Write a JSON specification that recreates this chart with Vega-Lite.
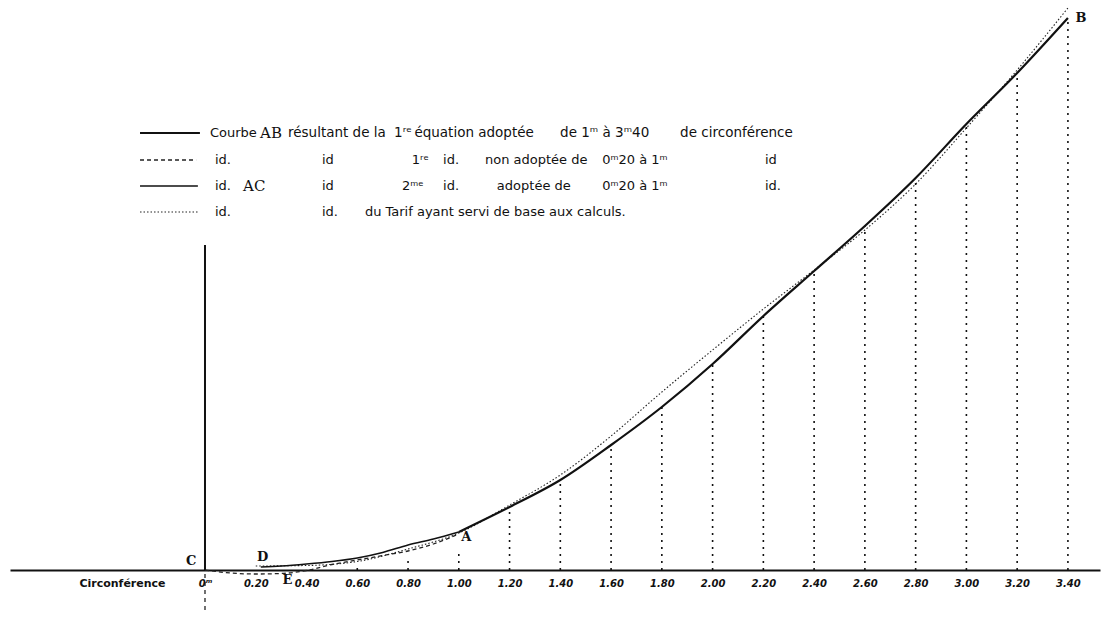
{
  "$schema": "https://vega.github.io/schema/vega-lite/v6.json",
  "autosize": {"type": "none"},
  "padding": {"left": 10, "top": 0, "right": 7, "bottom": 67},
  "width": 1090,
  "height": 570,
  "background": "white",
  "config": {"view": {"stroke": null}},
  "datasets": {
    "curves": [
      {"s": "AB", "g": "AB", "x": 1.0, "y": 0.38},
      {"s": "AB", "g": "AB", "x": 1.2, "y": 0.63},
      {"s": "AB", "g": "AB", "x": 1.4, "y": 0.90},
      {"s": "AB", "g": "AB", "x": 1.6, "y": 1.25},
      {"s": "AB", "g": "AB", "x": 1.8, "y": 1.63},
      {"s": "AB", "g": "AB", "x": 2.0, "y": 2.06},
      {"s": "AB", "g": "AB", "x": 2.2, "y": 2.54},
      {"s": "AB", "g": "AB", "x": 2.4, "y": 2.99},
      {"s": "AB", "g": "AB", "x": 2.6, "y": 3.44},
      {"s": "AB", "g": "AB", "x": 2.8, "y": 3.92},
      {"s": "AB", "g": "AB", "x": 3.0, "y": 4.46},
      {"s": "AB", "g": "AB", "x": 3.2, "y": 4.97},
      {"s": "AB", "g": "AB", "x": 3.4, "y": 5.52},
      {"s": "AB", "g": "legAB", "x": -0.256, "y": 4.37},
      {"s": "AB", "g": "legAB", "x": -0.020, "y": 4.37},

      {"s": "NA", "g": "NA", "x": 0.0, "y": 0.0},
      {"s": "NA", "g": "NA", "x": 0.1, "y": -0.03},
      {"s": "NA", "g": "NA", "x": 0.2, "y": -0.04},
      {"s": "NA", "g": "NA", "x": 0.3, "y": -0.035},
      {"s": "NA", "g": "NA", "x": 0.4, "y": -0.005},
      {"s": "NA", "g": "NA", "x": 0.5, "y": 0.055},
      {"s": "NA", "g": "NA", "x": 0.6, "y": 0.10},
      {"s": "NA", "g": "NA", "x": 0.7, "y": 0.145},
      {"s": "NA", "g": "NA", "x": 0.8, "y": 0.19},
      {"s": "NA", "g": "NA", "x": 0.9, "y": 0.26},
      {"s": "NA", "g": "NA", "x": 1.0, "y": 0.36},
      {"s": "NA", "g": "legNA", "x": -0.256, "y": 4.10},
      {"s": "NA", "g": "legNA", "x": -0.035, "y": 4.10},

      {"s": "AC", "g": "AC", "x": 0.22, "y": 0.03},
      {"s": "AC", "g": "AC", "x": 0.3, "y": 0.04},
      {"s": "AC", "g": "AC", "x": 0.4, "y": 0.06},
      {"s": "AC", "g": "AC", "x": 0.5, "y": 0.085},
      {"s": "AC", "g": "AC", "x": 0.6, "y": 0.12},
      {"s": "AC", "g": "AC", "x": 0.7, "y": 0.175},
      {"s": "AC", "g": "AC", "x": 0.8, "y": 0.25},
      {"s": "AC", "g": "AC", "x": 0.9, "y": 0.31},
      {"s": "AC", "g": "AC", "x": 1.0, "y": 0.38},
      {"s": "AC", "g": "legAC", "x": -0.256, "y": 3.84},
      {"s": "AC", "g": "legAC", "x": -0.028, "y": 3.84},

      {"s": "TA", "g": "TA", "x": 0.2, "y": 0.04},
      {"s": "TA", "g": "TA", "x": 0.4, "y": 0.045},
      {"s": "TA", "g": "TA", "x": 0.6, "y": 0.085},
      {"s": "TA", "g": "TA", "x": 0.8, "y": 0.21},
      {"s": "TA", "g": "TA", "x": 1.0, "y": 0.37},
      {"s": "TA", "g": "TA", "x": 1.2, "y": 0.65},
      {"s": "TA", "g": "TA", "x": 1.4, "y": 0.95},
      {"s": "TA", "g": "TA", "x": 1.6, "y": 1.34},
      {"s": "TA", "g": "TA", "x": 1.8, "y": 1.78},
      {"s": "TA", "g": "TA", "x": 2.0, "y": 2.20},
      {"s": "TA", "g": "TA", "x": 2.2, "y": 2.61},
      {"s": "TA", "g": "TA", "x": 2.4, "y": 3.00},
      {"s": "TA", "g": "TA", "x": 2.6, "y": 3.40},
      {"s": "TA", "g": "TA", "x": 2.8, "y": 3.86},
      {"s": "TA", "g": "TA", "x": 3.0, "y": 4.42},
      {"s": "TA", "g": "TA", "x": 3.2, "y": 5.00},
      {"s": "TA", "g": "TA", "x": 3.4, "y": 5.62},
      {"s": "TA", "g": "legTA", "x": -0.256, "y": 3.58},
      {"s": "TA", "g": "legTA", "x": -0.024, "y": 3.58}
    ],
    "ords": [
      {"x": 0.6, "y": 0, "y2": 0.05},
      {"x": 0.8, "y": 0, "y2": 0.09},
      {"x": 1.0, "y": 0, "y2": 0.20},
      {"x": 1.2, "y": 0, "y2": 0.63},
      {"x": 1.4, "y": 0, "y2": 0.90},
      {"x": 1.6, "y": 0, "y2": 1.25},
      {"x": 1.8, "y": 0, "y2": 1.63},
      {"x": 2.0, "y": 0, "y2": 2.06},
      {"x": 2.2, "y": 0, "y2": 2.54},
      {"x": 2.4, "y": 0, "y2": 2.99},
      {"x": 2.6, "y": 0, "y2": 3.44},
      {"x": 2.8, "y": 0, "y2": 3.92},
      {"x": 3.0, "y": 0, "y2": 4.46},
      {"x": 3.2, "y": 0, "y2": 4.97},
      {"x": 3.4, "y": 0, "y2": 5.52}
    ],
    "vaxis": [
      {"part": "up", "x": 0, "y": 0, "y2": 3.25},
      {"part": "down", "x": 0, "y": -0.40, "y2": 0}
    ],
    "labels": [
      {"k": "sans", "x": 0.0197, "y": 4.37, "t": "Courbe"},
      {"k": "serif", "x": 0.217, "y": 4.37, "t": "AB"},
      {"k": "row1", "x": 0.327, "y": 4.37, "t": "résultant de la"},
      {"k": "row1", "x": 0.745, "y": 4.37, "t": "1ʳᵉ"},
      {"k": "row1", "x": 0.825, "y": 4.37, "t": "équation adoptée"},
      {"k": "row1", "x": 1.399, "y": 4.37, "t": "de 1ᵐ à 3ᵐ40"},
      {"k": "row1", "x": 1.872, "y": 4.37, "t": "de circonférence"},
      {"k": "sans", "x": 0.039, "y": 4.10, "t": "id."},
      {"k": "sans", "x": 0.461, "y": 4.10, "t": "id"},
      {"k": "sans", "x": 0.815, "y": 4.10, "t": "1ʳᵉ"},
      {"k": "sans", "x": 0.938, "y": 4.10, "t": "id."},
      {"k": "sans", "x": 1.103, "y": 4.10, "t": "non adoptée de"},
      {"k": "sans", "x": 1.565, "y": 4.10, "t": "0ᵐ20 à 1ᵐ"},
      {"k": "sans", "x": 2.206, "y": 4.10, "t": "id"},
      {"k": "sans", "x": 0.039, "y": 3.84, "t": "id."},
      {"k": "serif", "x": 0.150, "y": 3.84, "t": "AC"},
      {"k": "sans", "x": 0.461, "y": 3.84, "t": "id"},
      {"k": "sans", "x": 0.776, "y": 3.84, "t": "2ᵐᵉ"},
      {"k": "sans", "x": 0.938, "y": 3.84, "t": "id."},
      {"k": "sans", "x": 1.150, "y": 3.84, "t": "adoptée de"},
      {"k": "sans", "x": 1.565, "y": 3.84, "t": "0ᵐ20 à 1ᵐ"},
      {"k": "sans", "x": 2.206, "y": 3.84, "t": "id."},
      {"k": "sans", "x": 0.039, "y": 3.58, "t": "id."},
      {"k": "sans", "x": 0.461, "y": 3.58, "t": "id."},
      {"k": "sans", "x": 0.630, "y": 3.58, "t": "du Tarif ayant servi de base aux calculs."},
      {"k": "pt", "x": -0.075, "y": 0.09, "t": "C"},
      {"k": "pt", "x": 0.205, "y": 0.13, "t": "D"},
      {"k": "pt", "x": 0.305, "y": -0.10, "t": "E"},
      {"k": "pt", "x": 1.010, "y": 0.33, "t": "A"},
      {"k": "pt", "x": 3.43, "y": 5.52, "t": "B"}
    ]
  },
  "encoding": {
    "x": {
      "field": "x", "type": "quantitative",
      "scale": {"domain": [-0.7683, 3.5264], "nice": false, "zero": false},
      "axis": {
        "values": [0, 0.2, 0.4, 0.6, 0.8, 1.0, 1.2, 1.4, 1.6, 1.8, 2.0, 2.2, 2.4, 2.6, 2.8, 3.0, 3.2, 3.4],
        "labelExpr": "datum.value == 0 ? '0ᵐ' : format(datum.value, '.2f')",
        "domainColor": "#111", "domainWidth": 2.2,
        "ticks": false, "grid": false,
        "labelFont": "DejaVu Sans", "labelFontWeight": "bold", "labelFontStyle": "italic",
        "labelFontSize": 10, "labelColor": "#111", "labelPadding": 8,
        "labelOverlap": false, "labelFlush": false,
        "title": "Circonférence", "titleFont": "DejaVu Sans", "titleFontSize": 11,
        "titleFontWeight": "bold", "titleColor": "#111",
        "titleX": 112, "titleY": 13, "titleBaseline": "middle", "titleAlign": "center"
      }
    },
    "y": {
      "field": "y", "type": "quantitative",
      "scale": {"domain": [0, 5.7], "nice": false, "zero": false},
      "axis": null
    }
  },
  "layer": [
    {
      "data": {"name": "vaxis"},
      "transform": [{"filter": "datum.part == 'up'"}],
      "mark": {"type": "rule", "color": "#111", "strokeWidth": 2},
      "encoding": {"y2": {"field": "y2"}}
    },
    {
      "data": {"name": "vaxis"},
      "transform": [{"filter": "datum.part == 'down'"}],
      "mark": {"type": "rule", "color": "#111", "strokeWidth": 1.2, "strokeDash": [4, 4]},
      "encoding": {"y2": {"field": "y2"}}
    },
    {
      "data": {"name": "ords"},
      "mark": {"type": "rule", "color": "#111", "strokeWidth": 1.6, "strokeDash": [2, 5]},
      "encoding": {"y2": {"field": "y2"}}
    },
    {
      "data": {"name": "curves"},
      "transform": [{"filter": "datum.s == 'TA'"}],
      "mark": {"type": "line", "color": "#222", "strokeWidth": 1.1, "strokeDash": [1.5, 2], "interpolate": "monotone"},
      "encoding": {"detail": {"field": "g"}}
    },
    {
      "data": {"name": "curves"},
      "transform": [{"filter": "datum.s == 'NA'"}],
      "mark": {"type": "line", "color": "#222", "strokeWidth": 1.3, "strokeDash": [4, 3], "interpolate": "monotone"},
      "encoding": {"detail": {"field": "g"}}
    },
    {
      "data": {"name": "curves"},
      "transform": [{"filter": "datum.s == 'AC'"}],
      "mark": {"type": "line", "color": "#111", "strokeWidth": 1.6, "interpolate": "monotone"},
      "encoding": {"detail": {"field": "g"}}
    },
    {
      "data": {"name": "curves"},
      "transform": [{"filter": "datum.s == 'AB'"}],
      "mark": {"type": "line", "color": "#111", "strokeWidth": 2.2, "interpolate": "monotone"},
      "encoding": {"detail": {"field": "g"}}
    },
    {
      "data": {"name": "labels"},
      "transform": [{"filter": "datum.k == 'sans'"}],
      "mark": {"type": "text", "align": "left", "baseline": "middle", "font": "DejaVu Sans", "fontSize": 13, "color": "#111"},
      "encoding": {"text": {"field": "t"}}
    },
    {
      "data": {"name": "labels"},
      "transform": [{"filter": "datum.k == 'row1'"}],
      "mark": {"type": "text", "align": "left", "baseline": "middle", "font": "DejaVu Sans", "fontSize": 13.5, "color": "#111"},
      "encoding": {"text": {"field": "t"}}
    },
    {
      "data": {"name": "labels"},
      "transform": [{"filter": "datum.k == 'serif'"}],
      "mark": {"type": "text", "align": "left", "baseline": "middle", "font": "DejaVu Serif", "fontSize": 15, "color": "#111"},
      "encoding": {"text": {"field": "t"}}
    },
    {
      "data": {"name": "labels"},
      "transform": [{"filter": "datum.k == 'pt'"}],
      "mark": {"type": "text", "align": "left", "baseline": "middle", "font": "DejaVu Serif", "fontWeight": "bold", "fontSize": 13, "color": "#111"},
      "encoding": {"text": {"field": "t"}}
    }
  ]
}
